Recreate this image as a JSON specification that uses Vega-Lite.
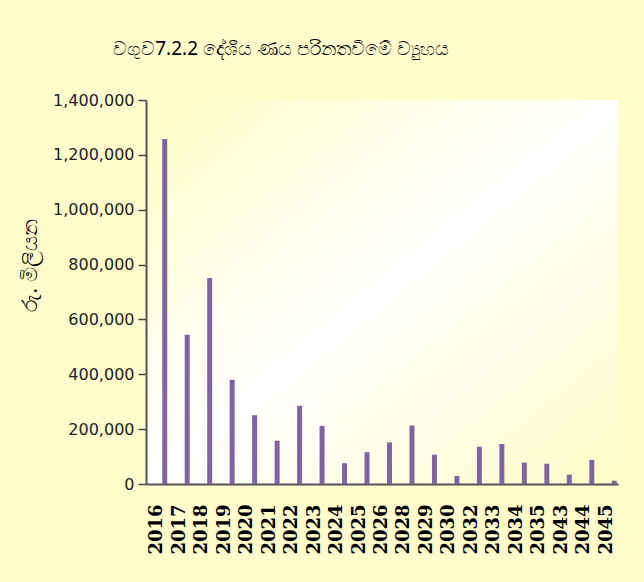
{
  "$schema": "https://vega.github.io/schema/vega-lite/v6.json",
  "width": 472,
  "height": 384,
  "autosize": {"type": "none"},
  "padding": {"left": 146, "top": 100, "right": 26, "bottom": 98},
  "background": "#FFFDCC",
  "title": {
    "text": "වගුව7.2.2 දේශීය ණය පරිනතවීමේ ව්‍යුහය",
    "anchor": "middle",
    "frame": "group",
    "dx": -101,
    "offset": 33,
    "font": "Noto Sans",
    "fontSize": 19,
    "fontWeight": "normal",
    "color": "#000000"
  },
  "data": {
    "values": [
      {"year": "2016", "value": 1258000},
      {"year": "2017", "value": 544000},
      {"year": "2018", "value": 751000},
      {"year": "2019", "value": 380000},
      {"year": "2020", "value": 251000},
      {"year": "2021", "value": 158000},
      {"year": "2022", "value": 285000},
      {"year": "2023", "value": 212000},
      {"year": "2024", "value": 76000},
      {"year": "2025", "value": 116000},
      {"year": "2026", "value": 152000},
      {"year": "2028", "value": 213000},
      {"year": "2029", "value": 107000},
      {"year": "2030", "value": 29000},
      {"year": "2032", "value": 136000},
      {"year": "2033", "value": 146000},
      {"year": "2034", "value": 78000},
      {"year": "2035", "value": 74000},
      {"year": "2043", "value": 34000},
      {"year": "2044", "value": 88000},
      {"year": "2045", "value": 12000}
    ]
  },
  "mark": {"type": "bar", "color": "#8064A2", "width": 5, "xOffset": 7.5},
  "encoding": {
    "x": {
      "field": "year",
      "type": "ordinal",
      "sort": null,
      "scale": {"paddingInner": 0, "paddingOuter": 0},
      "axis": {
        "title": null,
        "labelAngle": -90,
        "labelFont": "DejaVu Serif",
        "labelFontWeight": "bold",
        "labelFontSize": 18,
        "labelColor": "#000000",
        "labelPadding": 20,
        "ticks": false,
        "domainColor": "#555555",
        "domainWidth": 2
      }
    },
    "y": {
      "field": "value",
      "type": "quantitative",
      "scale": {"domain": [0, 1400000], "nice": false},
      "axis": {
        "title": "රු. මිලියන",
        "titleFont": "Noto Sans",
        "titleFontSize": 21,
        "titleFontWeight": "normal",
        "titleColor": "#000000",
        "titleX": -106,
        "titleY": 165,
        "values": [0, 200000, 400000, 600000, 800000, 1000000, 1200000, 1400000],
        "format": ",d",
        "grid": false,
        "labelFont": "DejaVu Sans",
        "labelFontSize": 16,
        "labelColor": "#222222",
        "labelPadding": 4,
        "tickSize": 8,
        "tickColor": "#444444",
        "tickWidth": 1.5,
        "domainColor": "#555555",
        "domainWidth": 2
      }
    }
  },
  "config": {
    "view": {
      "stroke": null,
      "fill": {
        "gradient": "linear",
        "x1": 0, "y1": 0, "x2": 1, "y2": 1,
        "stops": [
          {"offset": 0, "color": "#FFFFC6"},
          {"offset": 0.5, "color": "#FFFFFF"},
          {"offset": 1, "color": "#FFFDC8"}
        ]
      }
    }
  }
}
